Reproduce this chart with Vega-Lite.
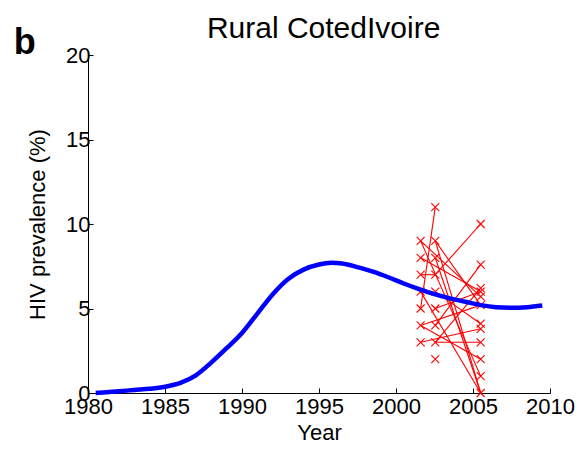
{
  "$schema": "https://vega.github.io/schema/vega-lite/v6.json",
  "width": 462,
  "height": 338,
  "autosize": {"type": "none"},
  "padding": {"left": 88, "top": 55, "right": 32, "bottom": 57},
  "background": "white",
  "config": {
    "view": {"stroke": null},
    "font": "Liberation Sans",
    "axis": {
      "domainColor": "black",
      "tickColor": "black",
      "labelColor": "black",
      "titleColor": "black",
      "labelFontSize": 22,
      "titleFontSize": 22,
      "titleFontWeight": "normal",
      "grid": false,
      "tickSize": -5,
      "domainWidth": 1,
      "tickWidth": 1
    }
  },
  "datasets": {
    "model": [
      {"year": 1980.5, "prev": 0.0},
      {"year": 1981, "prev": 0.03},
      {"year": 1982, "prev": 0.1},
      {"year": 1983, "prev": 0.18},
      {"year": 1984, "prev": 0.25},
      {"year": 1985, "prev": 0.37},
      {"year": 1986, "prev": 0.6},
      {"year": 1987, "prev": 1.05},
      {"year": 1988, "prev": 1.8},
      {"year": 1989, "prev": 2.65},
      {"year": 1990, "prev": 3.55},
      {"year": 1991, "prev": 4.7},
      {"year": 1992, "prev": 5.85},
      {"year": 1993, "prev": 6.75},
      {"year": 1994, "prev": 7.3},
      {"year": 1995, "prev": 7.6},
      {"year": 1995.8, "prev": 7.7},
      {"year": 1996.5, "prev": 7.66},
      {"year": 1997.5, "prev": 7.45},
      {"year": 1998.5, "prev": 7.18},
      {"year": 1999.5, "prev": 6.85},
      {"year": 2000.5, "prev": 6.48},
      {"year": 2001.5, "prev": 6.15},
      {"year": 2002.5, "prev": 5.85},
      {"year": 2003.5, "prev": 5.6},
      {"year": 2004.5, "prev": 5.4},
      {"year": 2005.5, "prev": 5.2},
      {"year": 2006.5, "prev": 5.08},
      {"year": 2007.5, "prev": 5.05},
      {"year": 2008.5, "prev": 5.08},
      {"year": 2009.5, "prev": 5.18}
    ],
    "links": [
      {"seg": "A", "year": 2001.6, "prev": 9}, {"seg": "A", "year": 2005.5, "prev": 5.7},
      {"seg": "B", "year": 2001.6, "prev": 8}, {"seg": "B", "year": 2005.5, "prev": 6.0},
      {"seg": "C", "year": 2001.6, "prev": 7}, {"seg": "C", "year": 2002.55, "prev": 7},
      {"seg": "D", "year": 2001.6, "prev": 6}, {"seg": "D", "year": 2005.5, "prev": 0},
      {"seg": "E", "year": 2001.6, "prev": 5}, {"seg": "E", "year": 2002.55, "prev": 11},
      {"seg": "F", "year": 2001.6, "prev": 4}, {"seg": "F", "year": 2005.5, "prev": 2},
      {"seg": "G", "year": 2001.6, "prev": 3}, {"seg": "G", "year": 2005.5, "prev": 3.8},
      {"seg": "H", "year": 2002.55, "prev": 9}, {"seg": "H", "year": 2005.5, "prev": 5.2},
      {"seg": "I", "year": 2002.55, "prev": 8}, {"seg": "I", "year": 2005.5, "prev": 0},
      {"seg": "J", "year": 2002.55, "prev": 7}, {"seg": "J", "year": 2005.5, "prev": 10},
      {"seg": "K", "year": 2002.55, "prev": 6}, {"seg": "K", "year": 2005.5, "prev": 4.1},
      {"seg": "L", "year": 2002.55, "prev": 5}, {"seg": "L", "year": 2005.5, "prev": 6.0},
      {"seg": "M", "year": 2002.55, "prev": 4}, {"seg": "M", "year": 2005.5, "prev": 7.6},
      {"seg": "N", "year": 2002.55, "prev": 3}, {"seg": "N", "year": 2005.5, "prev": 3},
      {"seg": "O", "year": 2002.55, "prev": 3}, {"seg": "O", "year": 2005.5, "prev": 6.2},
      {"seg": "P", "year": 2001.6, "prev": 9}, {"seg": "P", "year": 2005.5, "prev": 1.0},
      {"seg": "Q", "year": 2001.6, "prev": 4}, {"seg": "Q", "year": 2005.5, "prev": 5.2},
      {"seg": "R", "year": 2002.55, "prev": 9}, {"seg": "R", "year": 2005.5, "prev": 0}
    ],
    "obs": [
      {"year": 2001.6, "prev": 9}, {"year": 2001.6, "prev": 8}, {"year": 2001.6, "prev": 7},
      {"year": 2001.6, "prev": 6}, {"year": 2001.6, "prev": 5}, {"year": 2001.6, "prev": 4},
      {"year": 2001.6, "prev": 3},
      {"year": 2002.55, "prev": 11}, {"year": 2002.55, "prev": 9}, {"year": 2002.55, "prev": 8},
      {"year": 2002.55, "prev": 7}, {"year": 2002.55, "prev": 6}, {"year": 2002.55, "prev": 5},
      {"year": 2002.55, "prev": 4}, {"year": 2002.55, "prev": 3}, {"year": 2002.55, "prev": 2},
      {"year": 2005.5, "prev": 10}, {"year": 2005.5, "prev": 7.6}, {"year": 2005.5, "prev": 6.2},
      {"year": 2005.5, "prev": 6.0}, {"year": 2005.5, "prev": 5.7}, {"year": 2005.5, "prev": 5.2},
      {"year": 2005.5, "prev": 4.1}, {"year": 2005.5, "prev": 3.8}, {"year": 2005.5, "prev": 3},
      {"year": 2005.5, "prev": 2}, {"year": 2005.5, "prev": 1}, {"year": 2005.5, "prev": 0}
    ],
    "labels": [
      {"text": "b", "kind": "panel"},
      {"text": "Rural CotedIvoire", "kind": "title"}
    ]
  },
  "layer": [
    {
      "data": {"name": "links"},
      "mark": {"type": "line", "color": "#ff0000", "strokeWidth": 1.1, "clip": false},
      "encoding": {
        "x": {"field": "year", "type": "quantitative", "scale": {"domain": [1980, 2010], "nice": false, "zero": false},
          "axis": {"values": [1980, 1985, 1990, 1995, 2000, 2005, 2010], "format": "d", "title": "Year", "labelPadding": 8, "titlePadding": 5, "labelFlush": false}},
        "y": {"field": "prev", "type": "quantitative", "scale": {"domain": [0, 20], "nice": false},
          "axis": {"values": [0, 5, 10, 15, 20], "title": "HIV prevalence (%)", "labelPadding": 3, "titlePadding": 16}},
        "detail": {"field": "seg"}
      }
    },
    {
      "data": {"name": "obs"},
      "mark": {"type": "point", "shape": "M-1,-1L1,1M-1,1L1,-1", "filled": false, "color": "#ff0000", "size": 64, "strokeWidth": 1.1, "opacity": 1, "clip": false},
      "encoding": {
        "x": {"field": "year", "type": "quantitative"},
        "y": {"field": "prev", "type": "quantitative"}
      }
    },
    {
      "data": {"name": "model"},
      "mark": {"type": "line", "color": "#0000ff", "strokeWidth": 4.5, "interpolate": "monotone", "clip": false},
      "encoding": {
        "x": {"field": "year", "type": "quantitative"},
        "y": {"field": "prev", "type": "quantitative"}
      }
    },
    {
      "data": {"name": "labels"},
      "transform": [{"filter": "datum.kind === 'panel'"}],
      "mark": {"type": "text", "fontSize": 36, "fontWeight": "bold", "color": "black", "align": "center", "baseline": "alphabetic"},
      "encoding": {
        "text": {"field": "text"},
        "x": {"datum": 1975.9},
        "y": {"datum": 20.06}
      }
    },
    {
      "data": {"name": "labels"},
      "transform": [{"filter": "datum.kind === 'title'"}],
      "mark": {"type": "text", "fontSize": 30, "fontWeight": "normal", "color": "black", "align": "center", "baseline": "alphabetic"},
      "encoding": {
        "text": {"field": "text"},
        "x": {"datum": 1995.3},
        "y": {"datum": 21.0}
      }
    }
  ]
}
